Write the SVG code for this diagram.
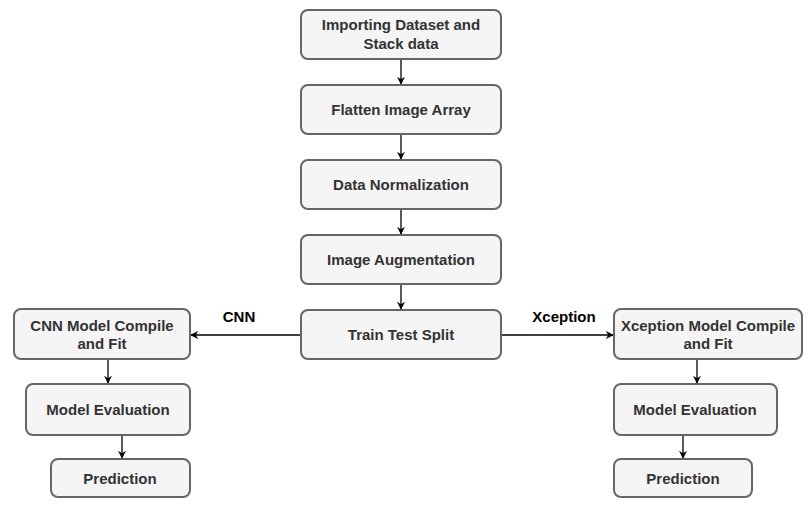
<svg xmlns="http://www.w3.org/2000/svg" width="812" height="510" viewBox="0 0 812 510">
<style>
.box{fill:#f5f5f5;stroke:#666666;stroke-width:2}
.t{font-family:"Liberation Sans",Arial,sans-serif;font-weight:bold;font-size:15px;fill:#333333;text-anchor:middle}
.lbl{font-family:"Liberation Sans",Arial,sans-serif;font-weight:bold;font-size:15px;fill:#000000;text-anchor:middle}
.e{stroke:#000000;stroke-width:1.3;fill:none;marker-end:url(#ah)}
</style>
<defs>
<marker id="ah" viewBox="0 0 10 10" refX="9" refY="5" markerWidth="8" markerHeight="8" markerUnits="userSpaceOnUse" orient="auto">
<path d="M0,0 L10,5 L0,10 L3,5 Z" fill="#000000"/>
</marker>
</defs>
<rect width="812" height="510" fill="#ffffff"/>
<g id="connectors">
<line class="e" x1="401" y1="59" x2="401" y2="84"/>
<line class="e" x1="401" y1="134" x2="401" y2="159"/>
<line class="e" x1="401" y1="209" x2="401" y2="234"/>
<line class="e" x1="401" y1="284" x2="401" y2="309"/>
<line class="e" x1="301" y1="335" x2="191" y2="335"/>
<line class="e" x1="501" y1="335" x2="613" y2="335"/>
<line class="e" x1="108" y1="360" x2="108" y2="383"/>
<line class="e" x1="122" y1="435" x2="122" y2="458"/>
<line class="e" x1="697" y1="360" x2="697" y2="383"/>
<line class="e" x1="683" y1="435" x2="683" y2="458"/>
<text class="lbl" x="239" y="322">CNN</text>
<text class="lbl" x="564" y="322">Xception</text>
</g>
<g id="n1"><rect class="box" x="301" y="10" width="200" height="49" rx="7"/><text class="t" x="401" y="30">Importing Dataset and</text><text class="t" x="401" y="49">Stack data</text></g>
<g id="n2"><rect class="box" x="301" y="85" width="200" height="49" rx="7"/><text class="t" x="401" y="115">Flatten Image Array</text></g>
<g id="n3"><rect class="box" x="301" y="160" width="200" height="49" rx="7"/><text class="t" x="401" y="190">Data Normalization</text></g>
<g id="n4"><rect class="box" x="301" y="235" width="200" height="49" rx="7"/><text class="t" x="401" y="265">Image Augmentation</text></g>
<g id="n5"><rect class="box" x="301" y="310" width="200" height="49" rx="7"/><text class="t" x="401" y="340">Train Test Split</text></g>
<g id="cnn1"><rect class="box" x="14" y="309" width="176" height="50" rx="7"/><text class="t" x="102" y="331">CNN Model Compile</text><text class="t" x="102" y="349">and Fit</text></g>
<g id="cnn2"><rect class="box" x="26" y="384" width="164" height="51" rx="7"/><text class="t" x="108" y="415">Model Evaluation</text></g>
<g id="cnn3"><rect class="box" x="51" y="459" width="139" height="38" rx="7"/><text class="t" x="120" y="484">Prediction</text></g>
<g id="x1"><rect class="box" x="614" y="309" width="188" height="50" rx="7"/><text class="t" x="708" y="331">Xception Model Compile</text><text class="t" x="708" y="349">and Fit</text></g>
<g id="x2"><rect class="box" x="614" y="384" width="163" height="51" rx="7"/><text class="t" x="695" y="415">Model Evaluation</text></g>
<g id="x3"><rect class="box" x="614" y="459" width="138" height="38" rx="7"/><text class="t" x="683" y="484">Prediction</text></g>
</svg>
